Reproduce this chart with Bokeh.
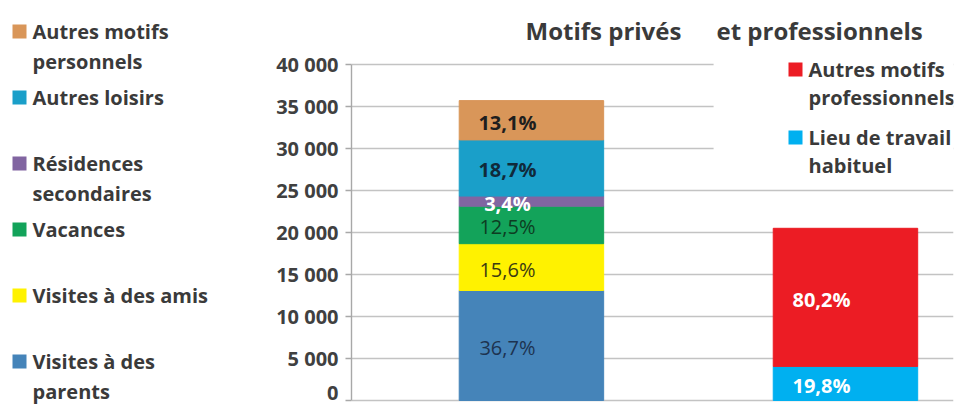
from bokeh.plotting import figure
from bokeh.layouts import row
from bokeh.models import Range1d, FixedTicker, BoxAnnotation, Label, ColumnDataSource
from bokeh.core.properties import value
from bokeh.embed import file_html
from bokeh.resources import INLINE

# --- data -------------------------------------------------------------
groups = ["Motifs privés", "et professionnels"]

prive_cats = ["Visites à des parents", "Visites à des amis", "Vacances",
              "Résidences secondaires", "Autres loisirs", "Autres motifs personnels"]
prive_legend = ["Visites à des\nparents", "Visites à des amis", "Vacances",
                "Résidences\nsecondaires", "Autres loisirs", "Autres motifs\npersonnels"]
prive_values = [13100, 5570, 4460, 1210, 6680, 4680]
prive_pct = ["36,7%", "15,6%", "12,5%", "3,4%", "18,7%", "13,1%"]
prive_colors = ["#4584b9", "#fff200", "#13a35a", "#8165a1", "#1a9fc9", "#d99659"]

pro_cats = ["Lieu de travail habituel", "Autres motifs professionnels"]
pro_legend = ["Lieu de travail\nhabituel", "Autres motifs\nprofessionnels"]
pro_values = [4060, 16440]
pro_pct = ["19,8%", "80,2%"]
pro_colors = ["#00b0f0", "#ec1c24"]

y_ticks = [0, 5000, 10000, 15000, 20000, 25000, 30000, 35000, 40000]
y_tick_labels = ["0", "5 000", "10 000", "15 000", "20 000", "25 000",
                 "30 000", "35 000", "40 000"]

FONT = "Open Sans"
TEXT = "#3a3a3a"

# page geometry (pixels)
W, H = 956, 405
LEG_W = 260
FL, FR = 351, 953          # chart frame left/right on the page
Y0, Y40 = 400, 64          # pixel rows of the 0 and 40 000 gridlines
px_per_unit = (Y0 - Y40) / 40000


def draw_legend(fig, frame_left, labels, colors, sq_x, txt_x, y0, gap, line_gap):
    # labels/colors top to bottom; page pixels turned into frame screen units
    for i, (lab, col) in enumerate(zip(labels, colors)):
        yc = y0 + i * gap
        fig.add_layout(BoxAnnotation(left=sq_x - frame_left, right=sq_x + 14 - frame_left,
                                     top=H - (yc - 7), bottom=H - (yc + 7),
                                     left_units="screen", right_units="screen",
                                     top_units="screen", bottom_units="screen",
                                     fill_color=col, fill_alpha=1, line_color=None))
        for j, line in enumerate(lab.split("\n")):
            fig.add_layout(Label(x=txt_x - frame_left, y=H - (yc + j * line_gap),
                                 x_units="screen", y_units="screen", text=line,
                                 text_font=FONT, text_font_style="bold",
                                 text_font_size="20px", text_color=TEXT,
                                 text_baseline="middle"))


# --- legend panel on the left ------------------------------------------
leg = figure(width=LEG_W, height=H, x_range=Range1d(0, 1), y_range=Range1d(0, 1),
             output_backend="svg", toolbar_location=None, title_location=None,
             x_axis_location=None, y_axis_location=None, min_border=0)
leg.outline_line_color = None
leg.xgrid.visible = False
leg.ygrid.visible = False
draw_legend(leg, 0, prive_legend[::-1], prive_colors[::-1], 12, 32, 31, 66, 30)

# --- chart ------------------------------------------------------------
p = figure(width=W - LEG_W, height=H,
           x_range=Range1d(0.427, 2.344),
           y_range=Range1d(-(H - Y0) / px_per_unit, 40000 + Y40 / px_per_unit),
           output_backend="svg", toolbar_location=None, x_axis_location=None,
           title_location=None, min_border_left=FL - LEG_W, min_border_right=W - FR,
           min_border_top=0, min_border_bottom=0)
p.outline_line_color = None
p.xgrid.visible = False
p.ygrid.grid_line_color = "#c3c3c3"
p.ygrid.grid_line_width = 1.6
p.yaxis.ticker = FixedTicker(ticks=y_ticks)
p.yaxis.major_label_overrides = dict(zip(y_ticks, y_tick_labels))
p.yaxis.bounds = (0, 40000)
p.yaxis.axis_line_color = "#a8a8a8"
p.yaxis.axis_line_width = 1.4
p.yaxis.major_tick_line_color = "#a8a8a8"
p.yaxis.major_tick_line_width = 1.4
p.yaxis.major_tick_out = 6
p.yaxis.major_tick_in = 0
p.yaxis.minor_tick_line_color = None
p.yaxis.major_label_standoff = 7
p.yaxis.major_label_text_font = FONT
p.yaxis.major_label_text_font_style = "bold"
p.yaxis.major_label_text_font_size = "20px"
p.yaxis.major_label_text_color = "#404040"

# white area behind the right-hand legend
p.add_layout(BoxAnnotation(left=1.58, bottom=27500, fill_color="white", fill_alpha=1,
                           line_color=None))

src_prive = ColumnDataSource(dict(x=[1], **{c: [v] for c, v in zip(prive_cats, prive_values)}))
p.vbar_stack(prive_cats, x="x", width=0.46, color=prive_colors, source=src_prive)

src_pro = ColumnDataSource(dict(x=[2], **{c: [v] for c, v in zip(pro_cats, pro_values)}))
p.vbar_stack(pro_cats, x="x", width=0.46, color=pro_colors, source=src_pro)


def mids(vals):
    out, base = [], 0
    for v in vals:
        out.append(base + v / 2)
        base += v
    return out


lab_src = ColumnDataSource(dict(
    x=[1] * len(prive_values) + [2] * len(pro_values),
    y=mids(prive_values) + mids(pro_values),
    t=prive_pct + pro_pct,
    c=["#1d3350", "#3b3b12", "#0d3d22", "#ffffff", "#102a3a", "#1e1e1e", "#ffffff", "#ffffff"],
    s=["normal", "normal", "normal", "bold", "bold", "bold", "bold", "bold"],
))
p.text(x="x", y="y", text="t", source=lab_src, text_color="c", text_font_style="s",
       text_font=value(FONT), text_font_size="20px", text_align="center",
       text_baseline="middle", x_offset=-24, y_offset=2)

# title, drawn in two parts like the original
p.add_layout(Label(x=525 - FL, y=H - 30, x_units="screen", y_units="screen",
                   text=groups[0], text_font=FONT, text_font_style="bold",
                   text_font_size="24px", text_color=TEXT, text_baseline="middle"))
p.add_layout(Label(x=716 - FL, y=H - 30, x_units="screen", y_units="screen",
                   text=groups[1], text_font=FONT, text_font_style="bold",
                   text_font_size="24px", text_color=TEXT, text_baseline="middle"))

draw_legend(p, FL, pro_legend[::-1], pro_colors[::-1], 788, 808, 69, 68, 28)

open("out.html", "w").write(file_html(row(leg, p, spacing=0), INLINE))
